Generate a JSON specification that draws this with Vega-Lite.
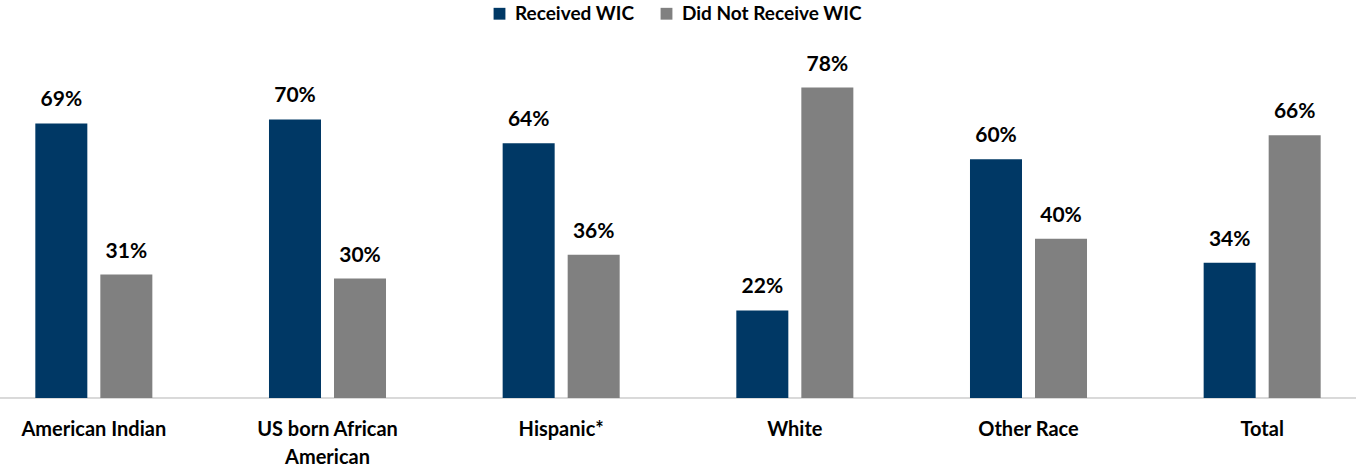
{
  "$schema": "https://vega.github.io/schema/vega-lite/v6.json",
  "width": 1356,
  "height": 398,
  "autosize": {"type": "none"},
  "padding": {"left": 0, "top": 0, "right": 0, "bottom": 70},
  "background": "white",
  "data": {"values": [
    {"group": "American Indian", "series": "Received WIC", "value": 0.69},
    {"group": "American Indian", "series": "Did Not Receive WIC", "value": 0.31},
    {"group": "US born African American", "series": "Received WIC", "value": 0.70},
    {"group": "US born African American", "series": "Did Not Receive WIC", "value": 0.30},
    {"group": "Hispanic*", "series": "Received WIC", "value": 0.64},
    {"group": "Hispanic*", "series": "Did Not Receive WIC", "value": 0.36},
    {"group": "White", "series": "Received WIC", "value": 0.22},
    {"group": "White", "series": "Did Not Receive WIC", "value": 0.78},
    {"group": "Other Race", "series": "Received WIC", "value": 0.60},
    {"group": "Other Race", "series": "Did Not Receive WIC", "value": 0.40},
    {"group": "Total", "series": "Received WIC", "value": 0.34},
    {"group": "Total", "series": "Did Not Receive WIC", "value": 0.66}
  ]},
  "encoding": {
    "x": {
      "field": "group", "type": "nominal", "sort": null,
      "scale": {"range": [-23, 1379], "paddingInner": 0, "paddingOuter": 0},
      "axis": {
        "title": null, "ticks": false, "domain": false,
        "labelAngle": 0, "labelFont": "Lato", "labelFontWeight": "bold",
        "labelFontSize": 20, "labelColor": "#000000", "labelPadding": 21,
        "labelBaseline": "top", "labelLineHeight": 28, "labelLimit": 300,
        "labelExpr": "datum.label == 'US born African American' ? ['US born African', 'American'] : datum.label"
      }
    },
    "xOffset": {
      "field": "series", "type": "nominal",
      "sort": ["Received WIC", "Did Not Receive WIC"],
      "scale": {"paddingInner": 0.2, "paddingOuter": 0.897}
    },
    "y": {
      "field": "value", "type": "quantitative",
      "scale": {"domain": [0, 1]},
      "axis": null
    }
  },
  "layer": [
    {
      "mark": {"type": "rule", "color": "#d9d9d9", "strokeWidth": 1},
      "encoding": {"x": null, "xOffset": null, "y": {"datum": 0, "type": "quantitative"}}
    },
    {
      "mark": {"type": "bar"},
      "encoding": {
        "color": {
          "field": "series", "type": "nominal",
          "sort": ["Received WIC", "Did Not Receive WIC"],
          "scale": {"domain": ["Received WIC", "Did Not Receive WIC"], "range": ["#003865", "#808080"]},
          "legend": {
            "title": null, "orient": "none", "direction": "horizontal",
            "legendX": 490, "legendY": 4,
            "symbolType": "square", "symbolSize": 140, "symbolStrokeWidth": 0,
            "labelFont": "Lato", "labelFontWeight": "bold", "labelFontSize": 19,
            "labelColor": "#000000", "columnPadding": 22, "labelOffset": 6,
            "labelLimit": 300
          }
        }
      }
    },
    {
      "mark": {"type": "text", "dy": -13, "baseline": "bottom", "font": "Lato", "fontWeight": "bold", "fontSize": 21, "color": "#000000"},
      "encoding": {
        "text": {"field": "value", "type": "quantitative", "format": ".0%"},
        "detail": {"field": "series"}
      }
    }
  ],
  "config": {"view": {"stroke": null}}
}
